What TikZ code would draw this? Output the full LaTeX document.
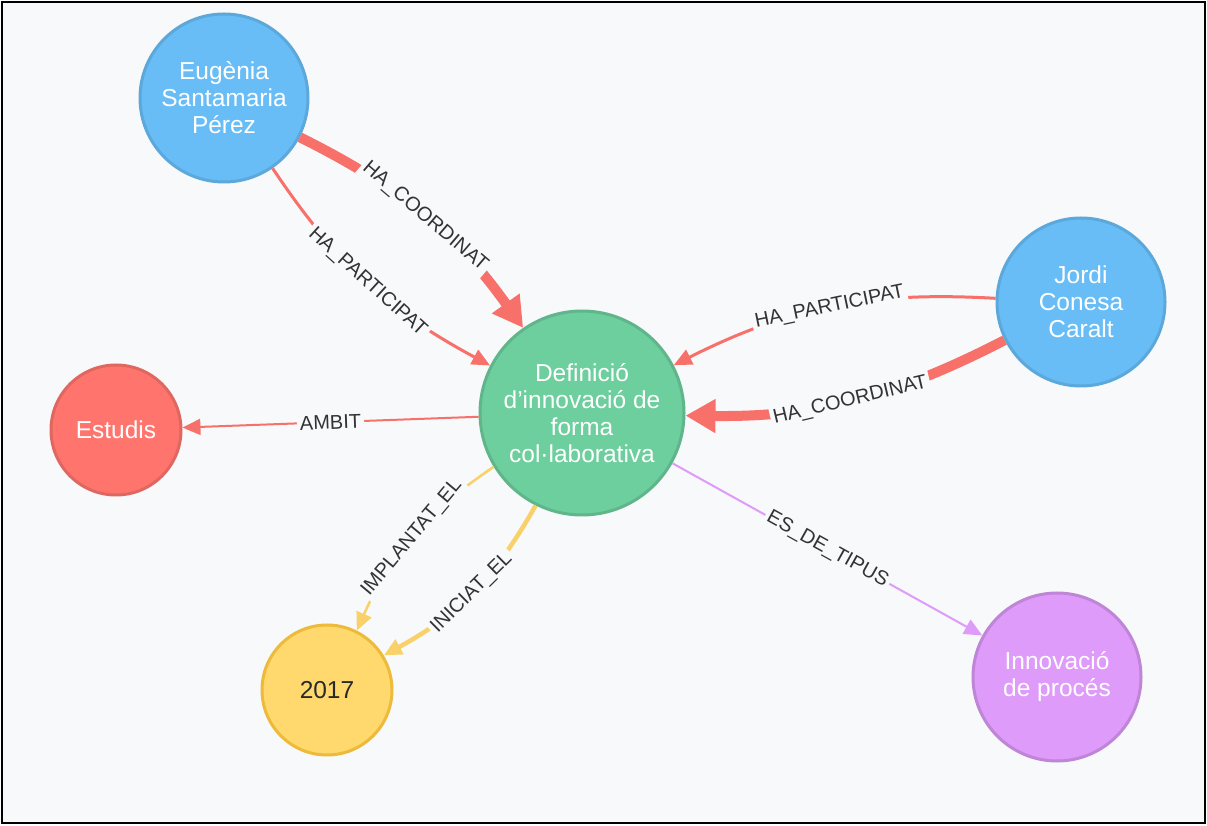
\documentclass[tikz,border=0pt]{standalone}
\usepackage{fontspec}
\setmainfont{Liberation Sans}
\usetikzlibrary{arrows.meta}
\definecolor{canvas}{HTML}{F8F9FB}
\definecolor{bluefill}{HTML}{68BDF6}
\definecolor{blueline}{HTML}{5CA8DB}
\definecolor{greenfill}{HTML}{6DCE9E}
\definecolor{greenline}{HTML}{60B58B}
\definecolor{redfill}{HTML}{FF756E}
\definecolor{redline}{HTML}{E06760}
\definecolor{yellowfill}{HTML}{FFD86E}
\definecolor{yellowline}{HTML}{EDBA39}
\definecolor{purplefill}{HTML}{DE9BF9}
\definecolor{purpleline}{HTML}{BF85D6}
\definecolor{relred}{HTML}{F7706A}
\definecolor{relyellow}{HTML}{F9D169}
\definecolor{labeltext}{HTML}{333333}
\tikzset{
	entity/.style={circle, line width=3pt, align=center, text=white,
		font=\fontsize{24.5}{27}\selectfont},
	person/.style={entity, fill=bluefill, draw=blueline, minimum size=168pt},
	project/.style={entity, fill=greenfill, draw=greenline, minimum size=204pt},
	field/.style={entity, fill=redfill, draw=redline, minimum size=130pt},
	yearnode/.style={entity, fill=yellowfill, draw=yellowline, minimum size=130pt, text=labeltext!80!black},
	kind/.style={entity, fill=purplefill, draw=purpleline, minimum size=168pt},
	rel/.style={sloped, fill=canvas, inner sep=3pt, text=labeltext,
		font=\fontsize{20}{20}\selectfont},
	thin/.style={line width=2pt, -{Triangle[length=18pt,width=16pt]}},
	thick/.style={line width=10pt, -{Triangle[length=30pt,width=32pt]}}
}
\begin{document}
\begin{tikzpicture}[x=1pt,y=1pt]
		\useasboundingbox (0,0) rectangle (1207,825);
		\draw [fill=canvas, line width=1.5pt] (2,2) rectangle (1205,823);

		\node[person] (eugenia) at (224,727) {Eugènia\\Santamaria\\Pérez};
		\node[person] (jordi) at (1081,523) {Jordi\\Conesa\\Caralt};
		\node[project] (defin) at (582,412) {Definició\\d’innovació de\\forma\\col·laborativa};
		\node[field] (estudis) at (116,395) {Estudis};
		\node[yearnode] (any) at (327,135) {2017};
		\node[kind] (innov) at (1057,148) {Innovació\\de procés};

		\draw [thick, relred] (eugenia) to [bend left=14] node[rel]{HA\_COORDINAT} (defin);
		\draw [thin, line width=3pt, relred] (eugenia) to [bend right=14] node[rel]{HA\_PARTICIPAT} (defin);
		\draw [thin, line width=3pt, relred] (jordi) to [bend right=15] node[rel]{HA\_PARTICIPAT} (defin);
		\draw [thick, relred] (jordi) to [bend left=14] node[rel]{HA\_COORDINAT} (defin);
		\draw [thin, relred] (defin) -- node[rel]{AMBIT} (estudis);
		\draw [thin, line width=2.5pt, relyellow] (defin) to [bend right=16] node[rel]{IMPLANTAT\_EL} (any);
		\draw [thin, line width=4.5pt, relyellow] (defin) to [bend left=16] node[rel]{INICIAT\_EL} (any);
		\draw [thin, purplefill] (defin) -- node[rel]{ES\_DE\_TIPUS} (innov);
	\end{tikzpicture}
\end{document}
